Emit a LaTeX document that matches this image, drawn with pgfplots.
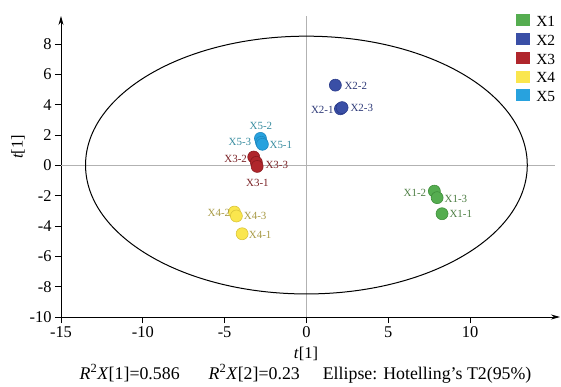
\documentclass[border=0pt]{standalone}
\usepackage{fontspec}
\setmainfont{Liberation Serif}
\usepackage{pgfplots}
\usepackage{pgfplotstable}
\pgfplotsset{compat=1.18}
\usetikzlibrary{arrows.meta}

\definecolor{Xonec}{HTML}{55AD50}\definecolor{Xoned}{HTML}{3E8E3A}\definecolor{Xonet}{HTML}{4F7F45}
\definecolor{Xtwoc}{HTML}{3A4FA6}\definecolor{Xtwod}{HTML}{2A3B8A}\definecolor{Xtwot}{HTML}{2E3A78}
\definecolor{Xthreec}{HTML}{B0262C}\definecolor{Xthreed}{HTML}{8A1A1F}\definecolor{Xthreet}{HTML}{7A2226}
\definecolor{Xfourc}{HTML}{FAE64E}\definecolor{Xfourd}{HTML}{D9C43A}\definecolor{Xfourt}{HTML}{A89A45}
\definecolor{Xfivec}{HTML}{28A2DE}\definecolor{Xfived}{HTML}{1E88C0}\definecolor{Xfivet}{HTML}{3A8DA0}

\pgfplotstableread{
x y
7.82 -1.70
7.99 -2.13
8.29 -3.19
}\tabXone
\pgfplotstableread{
x y
1.77 5.29
2.08 3.73
2.18 3.81
}\tabXtwo
\pgfplotstableread{
x y
-3.22 0.55
-3.06 0.20
-3.01 -0.07
}\tabXthree
\pgfplotstableread{
x y
-4.40 -3.08
-4.28 -3.34
-3.93 -4.51
}\tabXfour
\pgfplotstableread{
x y
-2.81 1.78
-2.75 1.52
-2.69 1.39
}\tabXfive

\pgfplotsset{
  pcaplot/.style n args={2}{only marks, mark=*, mark size=6bp, forget plot,
    draw=#2, fill=#1, mark options={line width=0.6bp}},
  lab/.style n args={4}{only marks, mark=none, forget plot,
    point meta=explicit symbolic, nodes near coords,
    nodes near coords style={anchor=#1, xshift=#2bp, yshift=#3bp, inner sep=0pt,
      font=\fontsize{11}{13}\selectfont, text=#4}},
}

\begin{document}
\begin{tikzpicture}
\begin{axis}[name=ax,
  scale only axis, width=499bp, height=301bp,
  xmin=-15, xmax=15.5, ymin=-10, ymax=9.85, enlargelimits=false,
  axis lines=left,
  axis line style={line width=0.8bp, -{Stealth[length=9bp,width=5bp]}},
  xtick={-15,-10,...,10}, ytick={-10,-8,...,8},
  tick align=outside, major tick length=6bp,
  tick style={line width=0.8bp, black},
  ticklabel style={font=\fontsize{16.5}{18}\selectfont},
  /pgf/number format/assume math mode=true,
  xlabel={\textit{t}[1]},
  xlabel style={at={(axis description cs:0.491,0)}, anchor=base, yshift=-41bp, font=\fontsize{16.5}{18}\selectfont},
  ylabel={\textit{t}[1]},
  ylabel style={at={(axis description cs:-0.086,0.565)}, anchor=center, font=\fontsize{16.5}{18}\selectfont},
  legend style={at={(axis description cs:0.912,1.007)}, anchor=north west, draw=none, fill=none,
    inner sep=0pt, font=\fontsize{15.5}{17}\selectfont, row sep=4bp, column sep=5bp,
    nodes={inner sep=1bp}},
  legend cell align=left,
  legend image code/.code={\fill[#1, draw=none] (0bp,-4bp) rectangle (14bp,8bp);},
]
\addplot[gray!60, line width=0.7bp, forget plot] coordinates {(0,-10) (0,9.85)};
\addplot[gray!60, line width=0.7bp, forget plot] coordinates {(-15,0) (15.2,0)};
\draw[black, line width=1bp] (axis cs:0,0.02) ellipse [x radius=13.5, y radius=8.5];

\addlegendimage{fill=Xonec}
\addlegendimage{fill=Xtwoc}
\addlegendimage{fill=Xthreec}
\addlegendimage{fill=Xfourc}
\addlegendimage{fill=Xfivec}
\legend{X1,X2,X3,X4,X5}

\addplot[pcaplot={Xonec}{Xoned}] table[x=x,y=y] {\tabXone};
\addplot[pcaplot={Xtwoc}{Xtwod}] table[x=x,y=y] {\tabXtwo};
\addplot[pcaplot={Xfourc}{Xfourd}] table[x=x,y=y] {\tabXfour};
\addplot[pcaplot={Xfivec}{Xfived}] table[x=x,y=y] {\tabXfive};
\addplot[pcaplot={Xthreec}{Xthreed}] table[x=x,y=y] {\tabXthree};

% point labels
\addplot[lab={east}{-8}{-1.6}{Xonet}] coordinates {(7.82,-1.70) [X1-2]};
\addplot[lab={west}{7.3}{-1.7}{Xonet}] coordinates {(7.99,-2.13) [X1-3]};
\addplot[lab={west}{7.3}{-0.4}{Xonet}] coordinates {(8.29,-3.19) [X1-1]};
\addplot[lab={west}{9}{-1}{Xtwot}] coordinates {(1.77,5.29) [X2-2]};
\addplot[lab={east}{-6.7}{-0.8}{Xtwot}] coordinates {(2.08,3.73) [X2-1]};
\addplot[lab={west}{8.3}{0}{Xtwot}] coordinates {(2.18,3.81) [X2-3]};
\addplot[lab={east}{-6.6}{-2}{Xthreet}] coordinates {(-3.22,0.55) [X3-2]};
\addplot[lab={west}{9}{-2.3}{Xthreet}] coordinates {(-3.06,0.20) [X3-3]};
\addplot[lab={center}{0.3}{-16.3}{Xthreet}] coordinates {(-3.01,-0.07) [X3-1]};
\addplot[lab={east}{-4}{-0.6}{Xfourt}] coordinates {(-4.40,-3.08) [X4-2]};
\addplot[lab={west}{7.3}{0}{Xfourt}] coordinates {(-4.28,-3.34) [X4-3]};
\addplot[lab={west}{6.6}{-0.7}{Xfourt}] coordinates {(-3.93,-4.51) [X4-1]};
\addplot[lab={center}{0.5}{12.3}{Xfivet}] coordinates {(-2.81,1.78) [X5-2]};
\addplot[lab={east}{-10}{0.3}{Xfivet}] coordinates {(-2.75,1.52) [X5-3]};
\addplot[lab={west}{7}{-1}{Xfivet}] coordinates {(-2.69,1.39) [X5-1]};
\end{axis}
\node[anchor=base, font=\fontsize{17.9}{20}\selectfont] at ([xshift=-5bp,yshift=-62bp]ax.south)
  {\textit{R}\textsuperscript{2}\textit{X}[1]=0.586\hspace{29bp}\textit{R}\textsuperscript{2}\textit{X}[2]=0.23\hspace{23bp}Ellipse: Hotelling’s T2(95\%)};
\path (ax.south west) ++(-61bp,-67bp) rectangle ++(561bp,384bp);
\end{tikzpicture}
\end{document}
